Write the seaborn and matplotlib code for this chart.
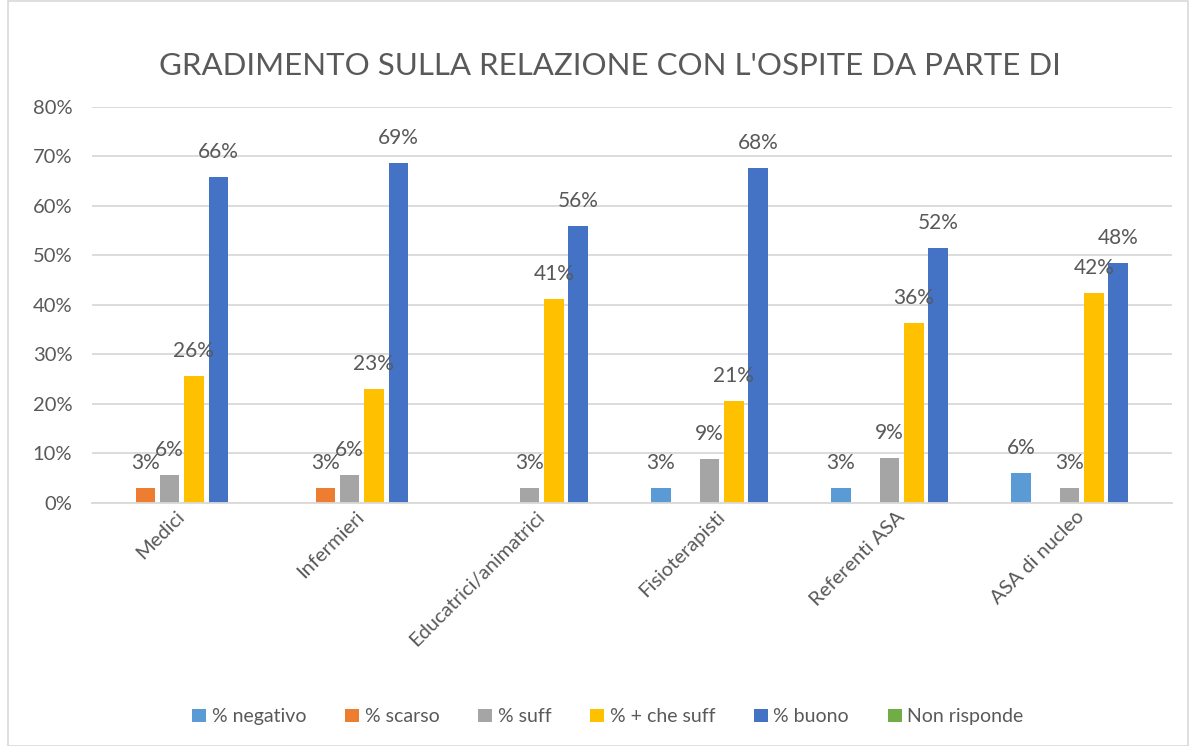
import numpy as np
import pandas as pd
import matplotlib.pyplot as plt
import matplotlib.patches as mpatches
import seaborn as sns

# Dati (frazioni)
categorie = ["Medici", "Infermieri", "Educatrici/animatrici", "Fisioterapisti",
             "Referenti ASA", "ASA di nucleo"]
serie = ["% negativo", "% scarso", "% suff", "% + che suff", "% buono", "Non risponde"]

negativo = [0, 0, 0, 0.029, 0.030, 0.061]
scarso = [0.029, 0.029, 0, 0, 0, 0]
suff = [0.057, 0.057, 0.029, 0.088, 0.091, 0.030]
piu_che_suff = [0.257, 0.229, 0.412, 0.206, 0.364, 0.424]
buono = [0.657, 0.686, 0.559, 0.676, 0.515, 0.485]
non_risponde = [0, 0, 0, 0, 0, 0]

colori = ["#5B9BD5", "#ED7D31", "#A5A5A5", "#FFC000", "#4472C4", "#70AD47"]
grigio = "#595959"

valori = [negativo, scarso, suff, piu_che_suff, buono, non_risponde]
df = pd.DataFrame([
    {"categoria": c, "serie": s, "valore": v}
    for s, vals in zip(serie, valori)
    for c, v in zip(categorie, vals)
])

sns.set_theme(style="white")
plt.rcParams['font.family'] = ['Lato', 'DejaVu Sans']

fig = plt.figure(figsize=(11.92, 7.46), dpi=100)
ax = fig.add_axes([0.077, 0.326, 0.906, 0.531])

sns.barplot(data=df, x="categoria", y="valore", hue="serie",
            order=categorie, hue_order=serie, palette=colori, saturation=1,
            width=0.81, gap=0.2, linewidth=0, errorbar=None, ax=ax)

# etichette dati (solo valori presenti)
for cont in ax.containers:
    for bar in cont:
        h = bar.get_height()
        if h > 0:
            ax.annotate(f"{h*100:.0f}%", (bar.get_x() + bar.get_width() / 2, h),
                        xytext=(0, 18), textcoords="offset points",
                        ha="center", va="center", fontsize=15, color=grigio)

ax.set_ylim(0, 0.8)
ax.set_yticks(np.arange(0, 0.81, 0.1))
ax.set_yticklabels([f"{int(round(t*100))}%" for t in np.arange(0, 0.81, 0.1)])
ax.yaxis.grid(True, color="#d9d9d9", linewidth=1.3)
ax.set_axisbelow(True)
for side in ["top", "right", "left"]:
    ax.spines[side].set_visible(False)
ax.spines["bottom"].set_color("#d9d9d9")
ax.spines["bottom"].set_linewidth(1.3)
ax.tick_params(axis="y", length=0, pad=14, labelsize=14.5, labelcolor=grigio)
ax.tick_params(axis="x", length=0, pad=8, labelsize=14.5, labelcolor=grigio)
plt.setp(ax.get_xticklabels(), rotation=45, ha="right", va="center",
         rotation_mode="anchor")
ax.set_xlabel("")
ax.set_ylabel("")

fig.suptitle("GRADIMENTO SULLA RELAZIONE CON L'OSPITE DA PARTE DI",
             x=0.512, y=0.93, fontsize=22.5, color=grigio)

sns.move_legend(ax, "center", bbox_to_anchor=(0.51, 0.039),
                bbox_transform=fig.transFigure, ncol=6, frameon=False, title=None,
                fontsize=14, handlelength=0.7, handleheight=0.7,
                handletextpad=0.3, columnspacing=2.0, labelcolor=grigio)

# cornice esterna in stile Excel
fig.patches.append(mpatches.Rectangle((0.007, 0.0), 0.99, 0.999, transform=fig.transFigure,
                                      fill=False, edgecolor="#d9d9d9", linewidth=1.2))

fig.savefig("out.png", dpi=100)
